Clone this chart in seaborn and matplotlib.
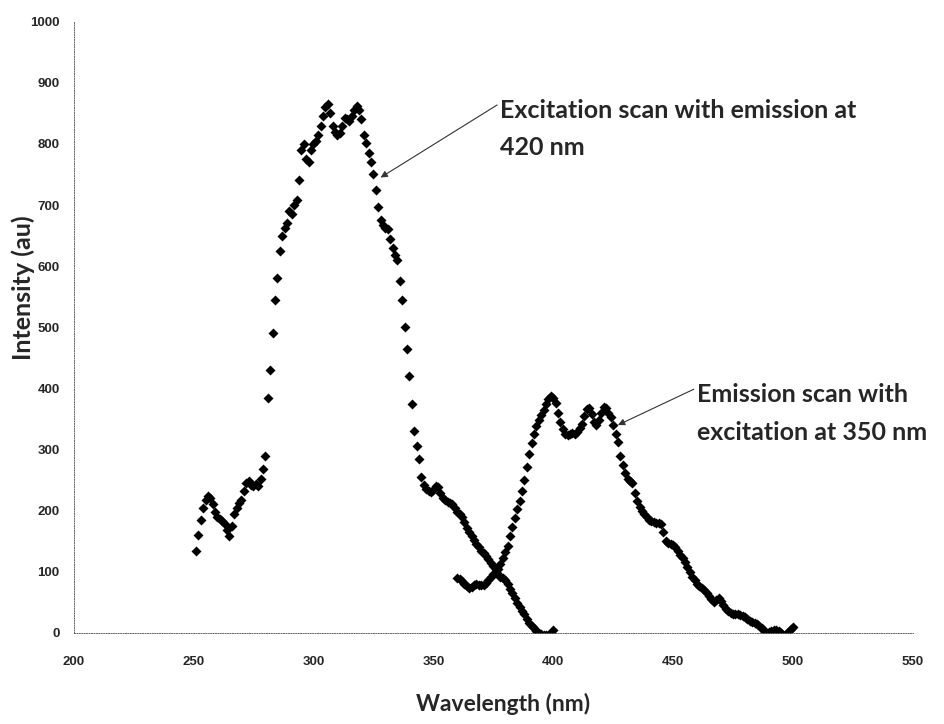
import numpy as np
import pandas as pd
import matplotlib
matplotlib.use("Agg")
import matplotlib.pyplot as plt
import seaborn as sns

# excitation scan (emission at 420 nm), 1 nm steps from 251 nm
exc_start = 251
exc_intensity = [
    134, 160, 185, 205, 218, 224, 220, 210, 198, 190,   # 251-260
    186, 183, 178, 168, 158, 175, 195, 205, 212, 218,   # 261-270
    232, 245, 248, 242, 240, 244, 240, 252, 268, 290,   # 271-280
    385, 430, 490, 545, 581, 625, 650, 662, 670, 690,   # 281-290
    685, 700, 709, 741, 790, 800, 775, 770, 790, 800,   # 291-300
    805, 815, 830, 845, 860, 865, 850, 830, 820, 815,   # 301-310
    818, 830, 842, 840, 838, 845, 855, 862, 855, 840,   # 311-320
    815, 802, 785, 770, 750, 725, 697, 675, 668, 662,   # 321-330
    660, 645, 630, 618, 610, 575, 545, 500, 465, 420,   # 331-340
    375, 330, 305, 285, 255, 242, 235, 232, 230, 233,   # 341-350
    240, 238, 228, 220, 218, 214, 213, 210, 205, 198,   # 351-360
    195, 190, 182, 172, 165, 158, 152, 146, 140, 134,   # 361-370
    130, 125, 120, 114, 110, 104, 96, 92, 90, 87,       # 371-380
    80, 72, 65, 57, 49, 43, 36, 30, 23, 16,             # 381-390
    11, 7, 3, 0, -2, -4, -4, -3, 0, 5,                  # 391-400
]

# emission scan (excitation at 350 nm), 1 nm steps from 360 nm
em_start = 360
em_intensity = [
    90, 88, 84, 80, 76, 74, 75, 78, 80, 79,             # 360-369
    79, 79, 82, 86, 91, 96, 100, 104, 112, 122,         # 370-379
    132, 142, 158, 173, 188, 203, 215, 232, 250, 272,   # 380-389
    293, 311, 326, 338, 348, 357, 365, 374, 383, 388,   # 390-399
    385, 376, 360, 345, 333, 325, 324, 326, 327, 326,   # 400-409
    328, 335, 342, 355, 366, 368, 358, 345, 340, 348,   # 410-419
    360, 370, 368, 360, 353, 340, 326, 312, 290, 275,   # 420-429
    262, 252, 248, 245, 228, 215, 206, 200, 195, 190,   # 430-439
    185, 183, 181, 180, 179, 178, 165, 150, 147, 146,   # 440-449
    144, 140, 134, 128, 122, 116, 108, 100, 92, 86,     # 450-459
    80, 76, 74, 70, 65, 60, 55, 51, 53, 57,             # 460-469
    52, 45, 39, 35, 33, 31, 30, 30, 29, 27,             # 470-479
    25, 22, 20, 18, 16, 14, 11, 7, 3, 0,                # 480-489
    1, 3, 5, 5, 3, 0, -3, -2, 2, 6,                     # 490-499
    9,                                                  # 500
]

x_ticks = [200, 250, 300, 350, 400, 450, 500, 550]
y_ticks = [0, 100, 200, 300, 400, 500, 600, 700, 800, 900, 1000]

exc = pd.DataFrame({"wavelength": exc_start + np.arange(len(exc_intensity)),
                    "intensity": exc_intensity})
em = pd.DataFrame({"wavelength": em_start + np.arange(len(em_intensity)),
                   "intensity": em_intensity})

sns.set_style("white")
plt.rcParams["font.family"] = ["Liberation Sans", "DejaVu Sans"]

fig = plt.figure(figsize=(9.44, 7.24), dpi=100)
ax = fig.add_axes([0.078, 0.126, 0.889, 0.844])

for df in (exc, em):
    sns.scatterplot(data=df, x="wavelength", y="intensity", ax=ax,
                    marker="D", s=26, color="black", linewidth=0)

ax.set_xlim(200, 550)
ax.set_ylim(0, 1000)
ax.set_xticks(x_ticks)
ax.set_yticks(y_ticks)
ax.tick_params(axis="both", direction="inout", length=4, width=0.6,
               color="#555555", labelsize=9.5)
ax.tick_params(axis="x", pad=15)
ax.tick_params(axis="y", pad=8)
for lab in ax.get_xticklabels() + ax.get_yticklabels():
    lab.set_fontweight("bold")

for side in ("top", "right"):
    ax.spines[side].set_visible(False)
for side in ("left", "bottom"):
    ax.spines[side].set_linestyle((0, (1, 1.5)))
    ax.spines[side].set_linewidth(0.7)
    ax.spines[side].set_color("#666666")

lato = ["Lato", "DejaVu Sans"]
ax.set_xlabel("Wavelength (nm)", family=lato, fontweight="bold", fontsize=16.5)
ax.set_ylabel("Intensity (au)", family=lato, fontweight="bold", fontsize=18)
ax.xaxis.set_label_coords(0.512, -0.098)
ax.yaxis.set_label_coords(-0.046, 0.565)

note_font = dict(family=lato, fontweight="bold", fontsize=18)
arrow = dict(arrowstyle="-|>", color="#333333", lw=0.8, mutation_scale=10,
             shrinkA=0, shrinkB=0, relpos=(0, 0.93))
ax.annotate("Excitation scan with emission at\n420 nm",
            xy=(328, 745), xytext=(378, 874), ha="left", va="top",
            linespacing=1.75, arrowprops=arrow, **note_font)
ax.annotate("Emission scan with\nexcitation at 350 nm",
            xy=(427, 340), xytext=(460, 408), ha="left", va="top",
            linespacing=1.75, arrowprops=arrow, **note_font)

fig.savefig("out.png", dpi=100)
